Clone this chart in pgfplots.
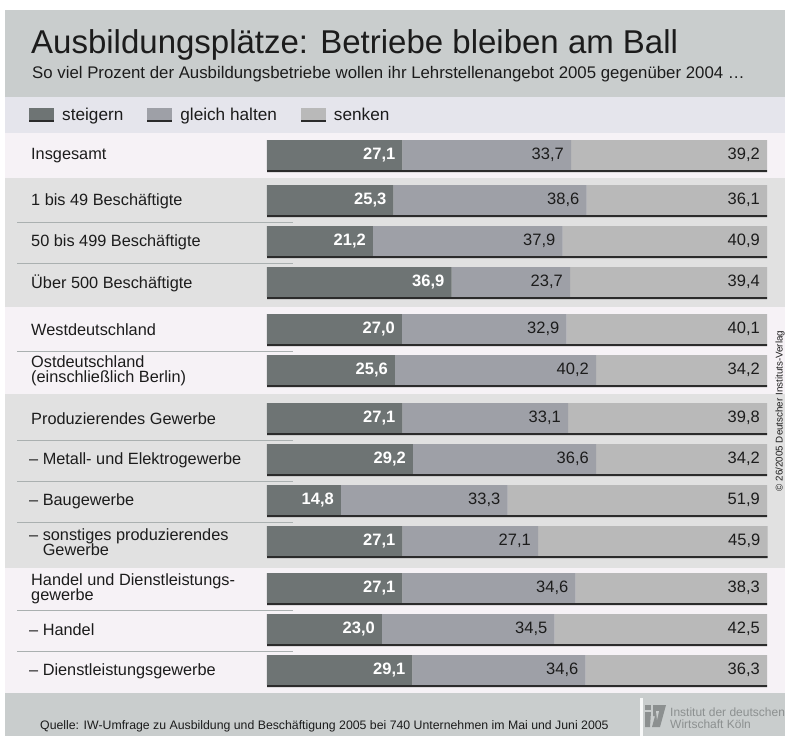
\documentclass[border=0pt]{standalone}
\usepackage{pgfplots}
\pgfplotsset{compat=1.18}
\usepackage{pgfplotstable}
\usepackage{fontspec}
\setmainfont{Liberation Sans}
\definecolor{hdr}{HTML}{C9CDCD}
\definecolor{legbg}{HTML}{E5E5EC}
\definecolor{rowA}{HTML}{F6F2F6}
\definecolor{rowB}{HTML}{E1E1E1}
\definecolor{cS}{HTML}{6E7474}
\definecolor{cG}{HTML}{9EA0A7}
\definecolor{cK}{HTML}{B9B9B9}
\definecolor{uline}{HTML}{2B2B2B}
\definecolor{sep}{HTML}{AAB0B0}
\definecolor{txt}{HTML}{1C1C1C}
\definecolor{logo}{HTML}{8C9090}

\pgfplotstableread{
pos s g k
155 27.1 33.7 39.2
200 25.3 38.6 36.1
241 21.2 37.9 40.9
282 36.9 23.7 39.4
329 27.0 32.9 40.1
370 25.6 40.2 34.2
418 27.1 33.1 39.8
459 29.2 36.6 34.2
500 14.8 33.3 51.9
541 27.1 27.1 45.9
588 27.1 34.6 38.3
629 23.0 34.5 42.5
670 29.1 34.6 36.3
}\data

\newcommand\fs[1]{\fontsize{#1}{#1}\selectfont}

\pgfplotsset{
  rowaxis/.style={
    at={(267pt,-736pt)}, anchor=south west,
    scale only axis, width=500pt, height=736pt,
    xmin=0, xmax=100, ymin=0, ymax=736, y dir=reverse,
    hide axis, clip=false,
  },
  numlab/.style={
    only marks, mark=none,
    point meta=explicit, forget plot,
    nodes near coords={\pgfmathprintnumber[fixed, fixed zerofill, precision=1, use comma, assume math mode=true]{\pgfplotspointmeta}},
    nodes near coords style={anchor=east, xshift=-7pt, inner sep=0pt, text=txt, font=\fs{16.5}},
  },
}

\begin{document}
\begin{tikzpicture}
\useasboundingbox (0,0) rectangle (785pt,-736pt);
\begin{scope}[x=1pt, y=-1pt]
  \fill[white] (0,0) rectangle (785,736);
  \fill[hdr] (5,10) rectangle (785,97);
  \fill[legbg] (5,97) rectangle (785,133);
  \fill[rowA] (5,133) rectangle (785,178);
  \fill[rowB] (5,178) rectangle (785,307);
  \fill[rowA] (5,307) rectangle (785,394);
  \fill[rowB] (5,394) rectangle (785,568);
  \fill[rowA] (5,568) rectangle (785,693);
  \fill[hdr] (5,693) rectangle (785,736);
  \foreach \y in {222.5,263.5,351.5,440.5,481.5,522.5,610.5,651.5}
     \draw[sep, line width=1pt] (17,\y) -- (293,\y);
  \node[anchor=base west, inner sep=0pt, text=txt, font=\fs{33}] at (31,53) {Ausbildungsplätze: Betriebe bleiben am Ball};
  \node[anchor=base west, inner sep=0pt, text=txt, font=\fs{16.8}] at (32,78) {So viel Prozent der Ausbildungsbetriebe wollen ihr Lehrstellenangebot 2005 gegenüber 2004 \dots};
  \begin{scope}[every node/.style={anchor=west, inner sep=0pt, text=txt, align=left, font=\fontsize{16.3}{15.5}\selectfont}]
  \node at (31,156) {Insgesamt};
  \node at (31,201) {1 bis 49 Beschäftigte};
  \node at (31,242) {50 bis 499 Beschäftigte};
  \node at (31,283) {Über 500 Beschäftigte};
  \node at (31,330) {Westdeutschland};
  \node at (31,371) {Ostdeutschland\\(einschließlich Berlin)};
  \node at (31,419) {Produzierendes Gewerbe};
  \node at (29,460) {– Metall- und Elektrogewerbe};
  \node at (29,501) {– Baugewerbe};
  \node at (29,542) {– sonstiges produzierendes\\\phantom{– }Gewerbe};
  \node at (31,589) {Handel und Dienstleistungs-\\gewerbe};
  \node at (29,630) {– Handel};
  \node at (29,671) {– Dienstleistungsgewerbe};
  \end{scope}
  \node[anchor=base west, inner sep=0pt, text=txt, font=\fs{12.3}] at (40,729) {Quelle: IW-Umfrage zu Ausbildung und Beschäftigung 2005 bei 740 Unternehmen im Mai und Juni 2005};
  % logo
  \fill[white!85!hdr] (639.5,698) rectangle (642.5,736);
  \fill[logo] (645,705) rectangle (651,710);
  \fill[logo] (645,712) -- (651,712) -- (650,727) -- (645,727) -- cycle;
  \fill[logo] (653,705) -- (666,705) -- (660,727) -- (652,727) -- (655,716) -- (653,716) -- cycle;
  \fill[hdr] (656,711) -- (659,711) -- (657,720) -- cycle;
  \node[anchor=base west, align=left, inner sep=0pt, text=logo, font=\fs{12}] at (670,716) {Institut der deutschen};
  \node[anchor=base west, align=left, inner sep=0pt, text=logo, font=\fs{12}] at (670,728) {Wirtschaft Köln};
  \node[rotate=90, inner sep=0pt, text=txt, font=\fs{9.8}] at (780,411) {© 26/2005 Deutscher Instituts-Verlag};
\end{scope}

\begin{axis}[rowaxis, xbar stacked, bar width=30,
  legend style={at={(axis cs:-48.2,115)}, anchor=west, draw=none, fill=none,
     legend columns=3, font=\fs{17.2}, text=txt,
     /tikz/every odd column/.append style={column sep=6pt},
     /tikz/every even column/.append style={column sep=22pt}},
  legend image code/.code={
     \path[#1, draw=none] (0pt,-5pt) rectangle (25pt,7pt);
     \fill[uline] (0pt,-7pt) rectangle (25pt,-5pt);},
]
\addplot[fill=cS, draw=none] table[x=s, y=pos] {\data};
\addlegendentry{steigern}
\addplot[fill=cG, draw=none] table[x=g, y=pos] {\data};
\addlegendentry{gleich halten}
\addplot[fill=cK, draw=none] table[x=k, y=pos] {\data};
\addlegendentry{senken}
\end{axis}

\begin{axis}[rowaxis]
\addplot[xbar, bar width=2, fill=uline, draw=none, forget plot] table[x expr=\thisrow{s}+\thisrow{g}+\thisrow{k}, y expr=\thisrow{pos}+16] {\data};
\addplot[numlab, nodes near coords style={text=white, font=\bfseries\fs{16.5}}] table[x=s, y=pos, meta=s] {\data};
\addplot[numlab] table[x expr=\thisrow{s}+\thisrow{g}, y=pos, meta=g] {\data};
\addplot[numlab] table[x expr=\thisrow{s}+\thisrow{g}+\thisrow{k}, y=pos, meta=k] {\data};
\end{axis}
\end{tikzpicture}
\end{document}
